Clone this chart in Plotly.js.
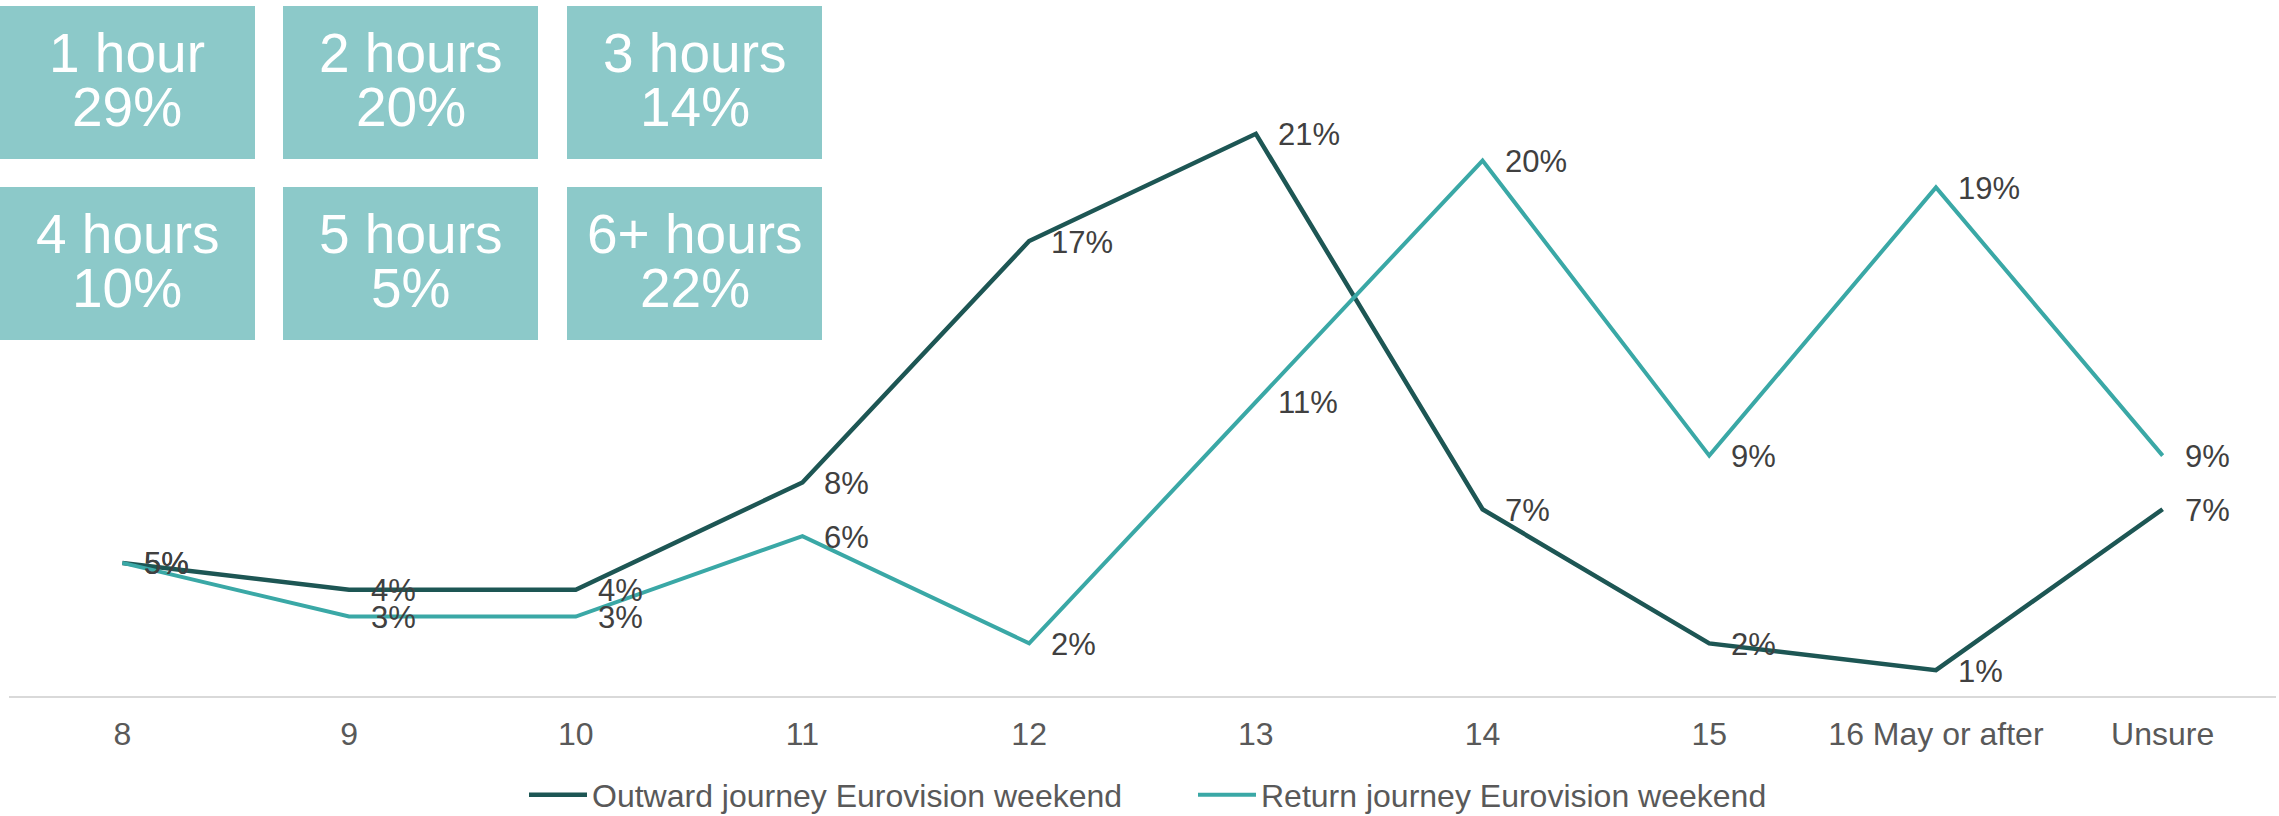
<!DOCTYPE html>
<html>
<head>
<meta charset="utf-8">
<script src="https://cdn.plot.ly/plotly-3.0.1.min.js"></script>
<style>html,body{margin:0;padding:0;background:#fff;}#chart{width:2279px;height:816px;}</style>
</head>
<body>
<div id="chart"></div>
<script>
// ---- data ----
const categories = ['8', '9', '10', '11', '12', '13', '14', '15', '16 May or after', 'Unsure'];
const outwardValues = [5, 4, 4, 8, 17, 21, 7, 2, 1, 7];
const returnValues  = [5, 3, 3, 6, 2, 11, 20, 9, 19, 9];
const seriesNames = ['Outward journey Eurovision weekend', 'Return journey Eurovision weekend'];
const durationLabels = ['1 hour', '2 hours', '3 hours', '4 hours', '5 hours', '6+ hours'];
const durationShares = [29, 20, 14, 10, 5, 22];

// ---- layout geometry (pixels) ----
const W = 2279, H = 816;
const ML = 9, MR = 3, MT = 10, MB = 119;
const plotW = W - ML - MR, plotH = H - MT - MB;
const yMax = plotH / 26.82;
const px2x = px => (px - ML) / plotW;
const px2y = py => (H - MB - py) / plotH;

const FONT = '"Liberation Sans", Arial, sans-serif';
const pct = v => v + '%';

const traces = [
  {
    x: categories, y: outwardValues, name: seriesNames[0],
    type: 'scatter', mode: 'lines',
    line: {color: '#1d5654', width: 4.5},
    hoverinfo: 'skip'
  },
  {
    x: categories, y: returnValues, name: seriesNames[1],
    type: 'scatter', mode: 'lines',
    line: {color: '#3aa8a6', width: 4},
    hoverinfo: 'skip'
  }
];

const shapes = [], annotations = [];

// data labels (placed from the data through the axes; category axis uses the category index)
[outwardValues, returnValues].forEach(vals => {
  vals.forEach((v, i) => {
    annotations.push({
      xref: 'x', yref: 'y', x: i, y: v,
      xanchor: 'left', yanchor: 'middle', xshift: 20, yshift: -1,
      showarrow: false, text: pct(v),
      font: {family: FONT, size: 31, color: '#404040'}
    });
  });
});

// boxes
const boxW = 255, boxH = 153;
const boxXs = [0, 283, 567];
const boxYs = [6, 187];
durationLabels.forEach((lab, i) => {
  const col = i % 3, row = Math.floor(i / 3);
  const x0 = boxXs[col], y0 = boxYs[row];
  shapes.push({
    type: 'rect', xref: 'paper', yref: 'paper', layer: 'below',
    x0: px2x(x0), x1: px2x(x0 + boxW), y0: px2y(y0), y1: px2y(y0 + boxH),
    fillcolor: '#8cc9c9', line: {width: 0}
  });
  const cx = x0 + boxW / 2;
  annotations.push({
    xref: 'paper', yref: 'paper', x: px2x(cx), y: px2y(y0 + 47),
    xanchor: 'center', yanchor: 'middle', showarrow: false,
    text: lab, font: {family: FONT, size: 55, color: '#ffffff'}
  });
  annotations.push({
    xref: 'paper', yref: 'paper', x: px2x(cx), y: px2y(y0 + 101),
    xanchor: 'center', yanchor: 'middle', showarrow: false,
    text: pct(durationShares[i]), font: {family: FONT, size: 55, color: '#ffffff'}
  });
});

const layout = {
  width: W, height: H,
  margin: {l: ML, r: MR, t: MT, b: MB, autoexpand: false},
  paper_bgcolor: '#ffffff', plot_bgcolor: '#ffffff',
  font: {family: FONT, size: 32, color: '#595959'},
  showlegend: true,
  legend: {
    orientation: 'h', x: px2x(524), xanchor: 'left', xref: 'paper',
    y: px2y(795), yanchor: 'middle',
    font: {family: FONT, size: 32, color: '#595959'},
    itemwidth: 58, traceorder: 'normal',
    entrywidth: 596, entrywidthmode: 'pixels'
  },
  xaxis: {
    type: 'category', range: [-0.5, 9.5], fixedrange: true,
    showgrid: false, zeroline: false, showline: false,
    ticks: '', ticklabelstandoff: 15,
    tickfont: {family: FONT, size: 32, color: '#595959'}
  },
  yaxis: {
    range: [0, yMax], fixedrange: true,
    showgrid: false, zeroline: true, zerolinecolor: '#d9d9d9', zerolinewidth: 2,
    showticklabels: false, ticks: '', showline: false
  },
  shapes: shapes,
  annotations: annotations
};

Plotly.newPlot('chart', traces, layout, {staticPlot: true, displayModeBar: false});
</script>
</body>
</html>
